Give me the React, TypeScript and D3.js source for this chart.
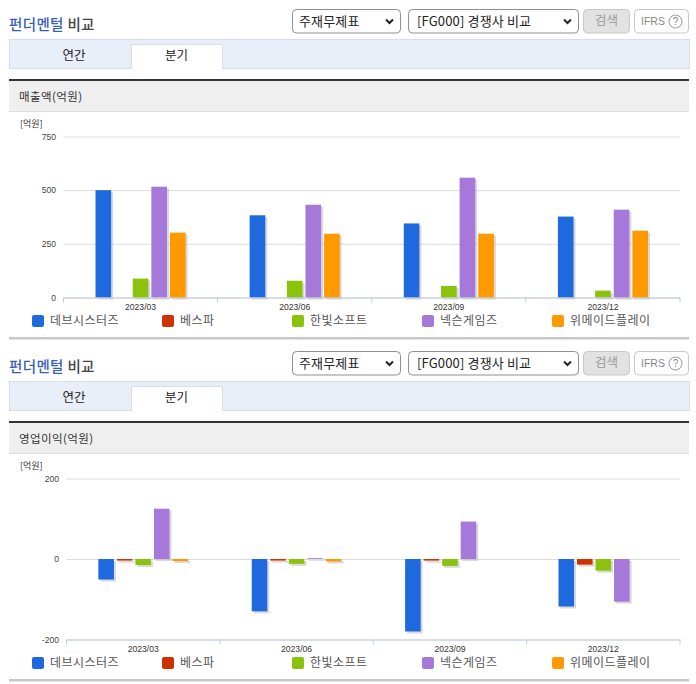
import React, { useEffect, useRef } from 'react';
import * as d3 from 'd3';

const periods = ['2023/03', '2023/06', '2023/09', '2023/12'];
const companies = ['데브시스터즈', '베스파', '한빛소프트', '넥슨게임즈', '위메이드플레이'];
const colors = ['#1f69de', '#cc3300', '#8ac20c', '#a678d9', '#ff9900'];

// 매출액(억원)
const salesDevsisters = [500, 383, 345, 377];
const salesBespa = [0, 0, 0, 0];
const salesHanbit = [88, 78, 54, 32];
const salesNexon = [516, 432, 558, 409];
const salesWemade = [302, 297, 297, 311];
const salesTicks = [0, 250, 500, 750];

// 영업이익(억원)
const profitDevsisters = [-51, -130, -180, -118];
const profitBespa = [-4, -4, -4, -14];
const profitHanbit = [-15, -12, -17, -29];
const profitNexon = [125, 2, 93, -106];
const profitWemade = [-5, -6, 0, 0];
const profitTicks = [-200, 0, 200];

const salesSeries = [salesDevsisters, salesBespa, salesHanbit, salesNexon, salesWemade];
const profitSeries = [profitDevsisters, profitBespa, profitHanbit, profitNexon, profitWemade];

const KR = '"Noto Sans CJK KR", "Noto Sans", sans-serif';
const LATIN = '"Liberation Sans", Arial, sans-serif';

interface ChartProps {
  series: number[][];
  ticks: number[];
  left: number;
  yTop: number;
  yBottom: number;
  labelRight: number;
  labelY: number;
}

const Chart: React.FC<ChartProps> = ({ series, ticks, left, yTop, yBottom, labelRight, labelY }) => {
  const ref = useRef<SVGGElement>(null);

  useEffect(() => {
    if (!ref.current) return;
    const g = d3.select(ref.current);
    g.selectAll('*').remove();

    const right = 680;
    const x0 = d3.scaleBand().domain(periods).range([left, right]);
    const x1 = d3.scaleBand<number>()
      .domain(d3.range(companies.length))
      .range([0, x0.bandwidth()])
      .paddingInner(0.16)
      .paddingOuter(1.72);
    const y = d3.scaleLinear()
      .domain([ticks[0], ticks[ticks.length - 1]])
      .range([yBottom, yTop]);

    // grid + y labels
    const yAxis = g.append('g')
      .attr('transform', `translate(${left},0)`)
      .call(d3.axisLeft(y).tickValues(ticks).tickSize(-(right - left)).tickPadding(left - labelRight).tickFormat((d: any) => String(d)));
    yAxis.select('.domain').remove();
    yAxis.selectAll('line').attr('stroke', '#dcdcdc');
    yAxis.selectAll('text').attr('fill', '#444').attr('font-family', LATIN).attr('font-size', 8.6);

    const zero = y(Math.max(0, ticks[0]));

    series.forEach((vals, s) => {
      const grp = g.append('g');
      const data = vals.map((v, i) => ({ v, p: periods[i] })).filter(d => d.v !== 0);
      grp.selectAll('rect.shadow')
        .data(data)
        .enter()
        .append('rect')
        .attr('class', 'shadow')
        .attr('x', d => (x0(d.p) as number) + (x1(s) as number) + 2)
        .attr('y', d => Math.min(y(d.v), zero) + 2)
        .attr('width', x1.bandwidth())
        .attr('height', d => Math.abs(y(d.v) - zero))
        .attr('fill', '#b4b4b4')
        .attr('opacity', 0.5);
      grp.selectAll('rect.bar')
        .data(data)
        .enter()
        .append('rect')
        .attr('class', 'bar')
        .attr('x', d => (x0(d.p) as number) + (x1(s) as number))
        .attr('y', d => Math.min(y(d.v), zero))
        .attr('width', x1.bandwidth())
        .attr('height', d => Math.abs(y(d.v) - zero))
        .attr('fill', colors[s]);
    });

    // category axis sits at the bottom of the plot
    const xAxis = g.append('g')
      .attr('transform', `translate(0,${yBottom})`)
      .call(d3.axisBottom(x0).tickSize(0).tickPadding(0));
    xAxis.select('.domain').attr('stroke', '#c0ccdc').attr('d', `M${left},0.5H${right}`);
    xAxis.selectAll('text')
      .attr('fill', '#333')
      .attr('font-family', LATIN)
      .attr('font-size', 8.6)
      .attr('y', labelY - yBottom)
      .attr('dy', '0.35em');
    xAxis.selectAll('line').remove();
    const edges = [...periods.map(p => x0(p) as number), right];
    xAxis.selectAll('line.edge')
      .data(edges)
      .enter()
      .append('line')
      .attr('class', 'edge')
      .attr('x1', d => d)
      .attr('x2', d => d)
      .attr('y1', 0)
      .attr('y2', 5)
      .attr('stroke', '#c0ccdc');
  }, [series, ticks, left, yTop, yBottom, labelRight, labelY]);

  return <g ref={ref}></g>;
};

const SelectBox: React.FC<{ x: number; w: number; y: number; label: string; pad: number }> = ({ x, w, y, label, pad }) => (
  <g>
    <rect x={x + 0.5} y={y + 0.5} width={w} height={23.5} rx={4} fill="#fff" stroke="#8f8f8f" />
    <text x={x + pad} y={y + 12.5} dy="0.35em" fontSize={13} letterSpacing={0.15} fontFamily={KR} fill="#222">{label}</text>
    <path d={`M${x + w - 14},${y + 10.5}l3.5,3.5l3.5,-3.5`} fill="none" stroke="#222" strokeWidth={2} />
  </g>
);

const Block: React.FC<{ top: number; title: string; legendY: number; ruleY: number; children: React.ReactNode }> = ({ top, title, legendY, ruleY, children }) => (
  <g>
    <text x={9} y={top + 24.5} dy="0.35em" fontSize={14.5} fontWeight={500} letterSpacing={0.35} fontFamily={KR} fill="#3a5fb8">
      펀더멘털 <tspan fill="#444">비교</tspan>
    </text>
    <SelectBox x={292} w={108} y={top + 9} label="주재무제표" pad={7} />
    <SelectBox x={408} w={170} y={top + 9} label="[FG000] 경쟁사 비교" pad={9} />
    <rect x={583.5} y={top + 9.5} width={46} height={23.5} rx={4} fill="#e2e2e2" stroke="#c8c8c8" />
    <text x={606.5} y={top + 21} dy="0.35em" textAnchor="middle" fontSize={12.5} fontFamily={KR} fill="#999">검색</text>
    <rect x={634.5} y={top + 9.5} width={54} height={23.5} rx={4} fill="#fff" stroke="#c8c8c8" />
    <text x={641} y={top + 21} dy="0.35em" fontSize={10.5} fontFamily={LATIN} fill="#888">IFRS</text>
    <circle cx={675.5} cy={top + 21.5} r={6.5} fill="none" stroke="#999" />
    <text x={675.5} y={top + 21.5} dy="0.35em" textAnchor="middle" fontSize={10} fontFamily={LATIN} fill="#888">?</text>

    <rect x={9.5} y={top + 39.5} width={680} height={29} fill="#e8eff8" stroke="#d6dee9" />
    <path d={`M131.5,${top + 69}V${top + 44.5}H222.5V${top + 69}`} fill="#fff" stroke="#d6dee9" />
    <text x={74} y={top + 56} dy="0.35em" textAnchor="middle" fontSize={12.5} fontFamily={KR} fill="#222">연간</text>
    <text x={176.5} y={top + 56} dy="0.35em" textAnchor="middle" fontSize={12.5} fontFamily={KR} fill="#222">분기</text>

    <rect x={9} y={top + 81} width={680} height={30} fill="#efefef" />
    <rect x={9} y={top + 111} width={680} height={1} fill="#dddddd" />
    <rect x={9} y={top + 79} width={680} height={2} fill="#333" />
    <text x={19} y={top + 96.5} dy="0.35em" fontSize={11.5} letterSpacing={0.4} fontFamily={KR} fill="#333">{title}(억원)</text>
    <text x={20} y={top + 123.5} dy="0.35em" fontSize={9} fontFamily={KR} fill="#333">[억원]</text>

    {children}

    {companies.map((c, i) => (
      <g key={c}>
        <rect x={32 + i * 130} y={legendY} width={12} height={12} rx={2} fill={colors[i]} />
        <text x={50 + i * 130} y={legendY + 6} dy="0.35em" fontSize={12} letterSpacing={0.45} fontFamily={KR} fill="#555">{c}</text>
      </g>
    ))}
    <rect x={9} y={ruleY} width={680} height={2.5} fill="#c8c8c8" />
  </g>
);

const App: React.FC = () => (
  <svg
    width={696}
    height={684}
    style={{ position: 'absolute', left: 0, top: 0, display: 'block', background: '#fff' }}
  >
    <Block top={0} title="매출액" legendY={315} ruleY={337}>
      <Chart series={salesSeries} ticks={salesTicks} left={63.5} yTop={136.5} yBottom={297.5} labelRight={56} labelY={307} />
    </Block>
    <Block top={342} title="영업이익" legendY={657} ruleY={679}>
      <Chart series={profitSeries} ticks={profitTicks} left={66.5} yTop={478.5} yBottom={639.5} labelRight={59} labelY={649} />
    </Block>
  </svg>
);

export default App;
